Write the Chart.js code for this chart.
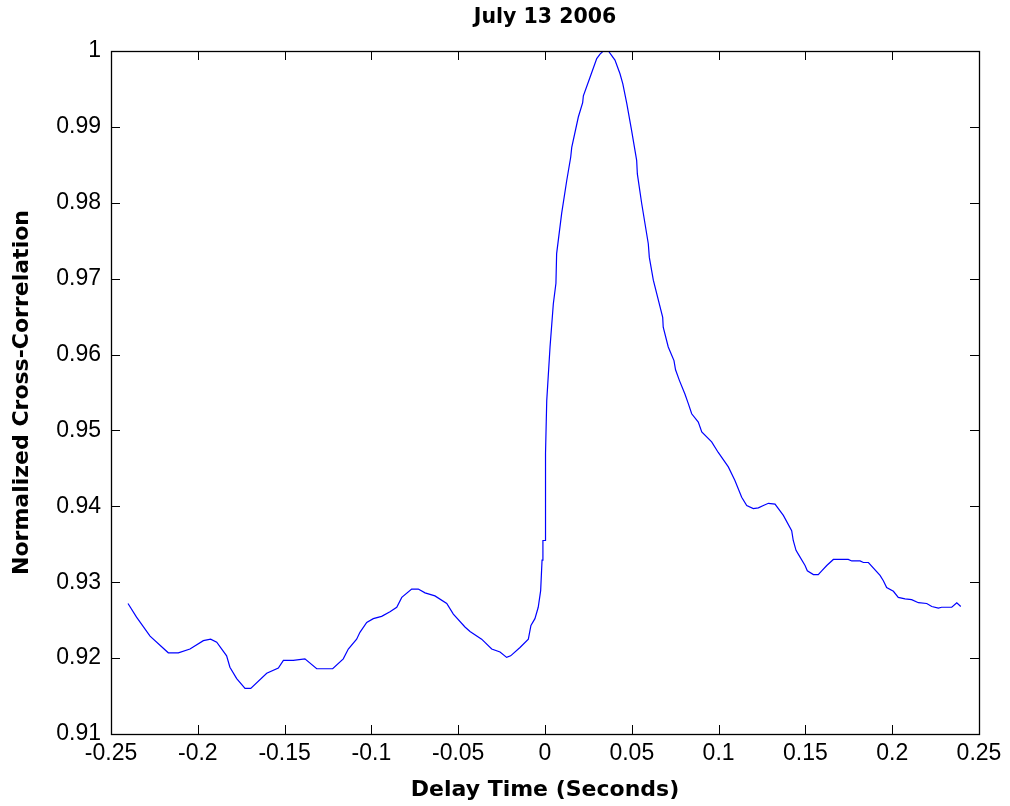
<!DOCTYPE html>
<html lang="en">
<head>
  <meta charset="UTF-8">
  <title>July 13 2006 - Cross-Correlation</title>
  <script src="https://cdn.jsdelivr.net/npm/chart.js@4.4.0/dist/chart.umd.min.js"></script>
  <style>
    html, body { margin: 0; padding: 0; background: #fff; }
    canvas { display: block; }
  </style>
</head>
<body>
  <canvas id="corrChart" width="1010" height="806"></canvas>

  <script>
    // delay time (seconds) and normalized cross-correlation
    const delayTime = [
      -0.2402, -0.2353, -0.2275, -0.2170, -0.2112, -0.2045, -0.1968, -0.1926, -0.1891, -0.1834,
      -0.1815, -0.1776, -0.1728, -0.1695, -0.1603, -0.1536, -0.1507, -0.1450, -0.1383, -0.1315,
      -0.1223, -0.1162, -0.1133, -0.1085, -0.1066, -0.1027, -0.0989, -0.0941, -0.0893, -0.0854,
      -0.0825, -0.0768, -0.0730, -0.0691, -0.0634, -0.0566, -0.0528, -0.0461, -0.0432, -0.0365,
      -0.0307, -0.0259, -0.0221, -0.0198, -0.0144, -0.0096, -0.0081, -0.0058, -0.0039, -0.0025,
      -0.0017, -0.0012, 0.0000, 0.0003, 0.0010, 0.0029, 0.0048, 0.0063, 0.0067, 0.0096,
      0.0125, 0.0148, 0.0154, 0.0192, 0.0217, 0.0221, 0.0259, 0.0298, 0.0317, 0.0336,
      0.0365, 0.0403, 0.0432, 0.0448, 0.0471, 0.0499, 0.0528, 0.0532, 0.0557, 0.0595,
      0.0601, 0.0624, 0.0678, 0.0681, 0.0710, 0.0743, 0.0752, 0.0774, 0.0806, 0.0826,
      0.0845, 0.0883, 0.0903, 0.0960, 0.0998, 0.1056, 0.1094, 0.1133, 0.1162, 0.1200,
      0.1229, 0.1258, 0.1287, 0.1325, 0.1373, 0.1421, 0.1430, 0.1446, 0.1459, 0.1498,
      0.1511, 0.1546, 0.1574, 0.1594, 0.1623, 0.1661, 0.1747, 0.1767, 0.1815, 0.1834,
      0.1863, 0.1930, 0.1949, 0.1968, 0.2007, 0.2035, 0.2074, 0.2112, 0.2151, 0.2199,
      0.2228, 0.2266, 0.2285, 0.2343, 0.2372, 0.2395
    ];
    const crossCorr = [
      0.9272, 0.9254, 0.9229, 0.9207, 0.9207, 0.9212, 0.9223, 0.9225, 0.9221, 0.9203,
      0.9188, 0.9173, 0.9160, 0.9160, 0.9180, 0.9187, 0.9197, 0.9197, 0.9199, 0.9186,
      0.9186, 0.9199, 0.9212, 0.9225, 0.9234, 0.9247, 0.9252, 0.9255, 0.9261, 0.9267,
      0.9280, 0.9291, 0.9291, 0.9286, 0.9282, 0.9272, 0.9258, 0.9241, 0.9235, 0.9225,
      0.9212, 0.9208, 0.9201, 0.9203, 0.9214, 0.9225, 0.9243, 0.9252, 0.9267, 0.9289,
      0.9329, 0.9355, 0.9355, 0.9470, 0.9539, 0.9610, 0.9667, 0.9694, 0.9733, 0.9786,
      0.9829, 0.9860, 0.9873, 0.9913, 0.9932, 0.9941, 0.9965, 0.9990, 0.9996, 1.0000,
      1.0000, 0.9988, 0.9970, 0.9957, 0.9931, 0.9895, 0.9856, 0.9838, 0.9799, 0.9746,
      0.9728, 0.9698, 0.9649, 0.9636, 0.9610, 0.9592, 0.9580, 0.9566, 0.9548, 0.9535,
      0.9522, 0.9511, 0.9498, 0.9485, 0.9471, 0.9452, 0.9434, 0.9412, 0.9401, 0.9397,
      0.9398, 0.9401, 0.9404, 0.9403, 0.9388, 0.9368, 0.9355, 0.9342, 0.9337, 0.9322,
      0.9315, 0.9310, 0.9310, 0.9315, 0.9322, 0.9330, 0.9330, 0.9328, 0.9328, 0.9326,
      0.9326, 0.9309, 0.9302, 0.9293, 0.9288, 0.9280, 0.9278, 0.9277, 0.9273, 0.9272,
      0.9268, 0.9266, 0.9267, 0.9267, 0.9273, 0.9268
    ];

    const xRange = [-0.25, 0.25];
    const xStep = 0.05;
    const yRange = [0.91, 1];
    const yStep = 0.01;
    const chartTitle = 'July 13 2006';

    const fontFamily = "'Liberation Sans', Arial, Helvetica, sans-serif";
    const boldFamily = "'DejaVu Sans', 'Liberation Sans', Arial, sans-serif";
    Chart.defaults.font.family = fontFamily;
    Chart.defaults.color = '#000';

    const fmt = v => parseFloat(Number(v).toFixed(2)).toString();

    // MATLAB style box with inward ticks on all four sides, title over the axes
    const boxTicks = {
      id: 'boxTicks',
      afterDraw(chart) {
        const { ctx, chartArea: a, scales: { x, y } } = chart;
        const len = 9;
        ctx.save();
        ctx.strokeStyle = '#000';
        ctx.lineWidth = 1;
        ctx.beginPath();
        x.ticks.forEach(t => {
          const px = Math.round(x.getPixelForValue(t.value)) + 0.5;
          ctx.moveTo(px, a.bottom); ctx.lineTo(px, a.bottom - len);
          ctx.moveTo(px, a.top); ctx.lineTo(px, a.top + len);
        });
        y.ticks.forEach(t => {
          const py = Math.round(y.getPixelForValue(t.value)) + 0.5;
          ctx.moveTo(a.left, py); ctx.lineTo(a.left + len, py);
          ctx.moveTo(a.right, py); ctx.lineTo(a.right - len, py);
        });
        ctx.stroke();
        ctx.lineWidth = 1.3;
        ctx.strokeRect(Math.round(a.left) + 0.5, Math.round(a.top) + 0.5,
                       Math.round(a.width), Math.round(a.height));

        ctx.fillStyle = '#000';
        ctx.font = 'bold 20.5px ' + boldFamily;
        ctx.textAlign = 'center';
        ctx.textBaseline = 'middle';
        ctx.fillText(chartTitle, (a.left + a.right) / 2, 18);
        ctx.restore();
      }
    };

    const ctx = document.getElementById('corrChart').getContext('2d');
    new Chart(ctx, {
      type: 'scatter',
      data: {
        datasets: [{
          label: 'Cross-Correlation',
          data: delayTime.map((t, i) => ({ x: t, y: crossCorr[i] })),
          showLine: true,
          borderColor: 'rgb(0, 0, 255)',
          borderWidth: 1.2,
          pointRadius: 0,
          tension: 0,
          fill: false
        }]
      },
      options: {
        responsive: false,
        animation: false,
        devicePixelRatio: 1,
        layout: { padding: { top: 51, right: 31, bottom: 0, left: 0 } },
        plugins: {
          legend: { display: false },
          tooltip: { enabled: false },
          title: { display: false }
        },
        scales: {
          x: {
            type: 'linear',
            min: xRange[0],
            max: xRange[1],
            afterFit: s => { s.height = 72; },
            grid: { display: false, drawTicks: false },
            border: { display: false },
            ticks: {
              stepSize: xStep,
              padding: 6,
              maxRotation: 0,
              autoSkip: false,
              font: { size: 23 },
              callback: fmt
            },
            title: {
              display: true,
              text: 'Delay Time (Seconds)',
              font: { family: boldFamily, size: 22, weight: 'bold' },
              padding: { top: 0, bottom: 3 }
            }
          },
          y: {
            type: 'linear',
            min: yRange[0],
            max: yRange[1],
            afterFit: s => { s.width = 111; },
            grid: { display: false, drawTicks: false },
            border: { display: false },
            ticks: {
              stepSize: yStep,
              padding: 10,
              autoSkip: false,
              font: { size: 23 },
              callback: fmt
            },
            title: {
              display: true,
              text: 'Normalized Cross-Correlation',
              font: { family: boldFamily, size: 22, weight: 'bold' },
              padding: { top: 9, bottom: 0 }
            }
          }
        }
      },
      plugins: [boxTicks]
    });
  </script>
</body>
</html>
